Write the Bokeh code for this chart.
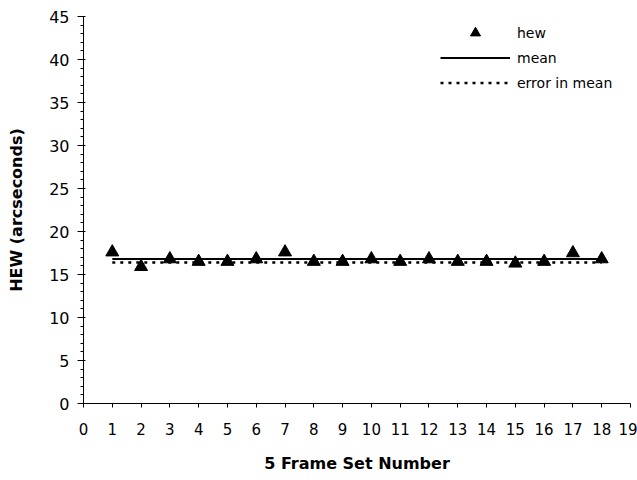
from bokeh.plotting import figure
from bokeh.models import Range1d, FixedTicker, Legend, LegendItem, ColumnDataSource
from bokeh.embed import file_html
from bokeh.resources import INLINE

frame_set = list(range(1, 19))
hew = [17.6, 15.9, 16.8, 16.5, 16.5, 16.8, 17.6, 16.5, 16.5,
       16.8, 16.5, 16.8, 16.5, 16.5, 16.3, 16.5, 17.5, 16.8]
mean_hew = 16.8
err_mean_low = 16.4
x_ticks = list(range(0, 20))
y_ticks = list(range(0, 50, 5))
y_minor = list(range(0, 46))

FONT = "DejaVu Sans"

src = ColumnDataSource(dict(x=frame_set, y=hew))
line_src = ColumnDataSource(dict(x=[frame_set[0], frame_set[-1]],
                                 m=[mean_hew, mean_hew],
                                 e=[err_mean_low, err_mean_low]))

p = figure(width=637, height=480, output_backend="svg", toolbar_location=None,
           x_range=Range1d(0, 19), y_range=Range1d(0, 45),
           min_border_left=83, min_border_right=7, min_border_top=16,
           min_border_bottom=77)
p.outline_line_color = None
p.xgrid.visible = False
p.ygrid.visible = False
p.background_fill_color = "white"
p.border_fill_color = "white"

r_mean = p.line("x", "m", source=line_src, line_color="black", line_width=2)
r_err = p.line("x", "e", source=line_src, line_color="black", line_width=2.5,
               line_dash="3 5")
r_hew = p.scatter("x", "y", source=src, marker="triangle", size=13,
                  fill_color="black", line_color="black")

xa = p.xaxis[0]
xa.ticker = FixedTicker(ticks=x_ticks)
xa.major_tick_out = 4
xa.major_tick_in = 0
xa.minor_tick_out = 0
xa.minor_tick_in = 0
xa.major_label_standoff = 15
xa.major_label_text_font = FONT
xa.major_label_text_font_size = "15px"
xa.major_label_text_color = "black"
xa.axis_label = "5 Frame Set Number"
xa.axis_label_text_font = FONT
xa.axis_label_text_font_style = "bold"
xa.axis_label_text_font_size = "16px"
xa.axis_label_text_color = "black"
xa.axis_label_standoff = 16
xa.axis_line_color = "black"

ya = p.yaxis[0]
ya.ticker = FixedTicker(ticks=y_ticks, minor_ticks=y_minor)
ya.major_tick_out = 6
ya.major_tick_in = 2
ya.minor_tick_out = 3
ya.minor_tick_in = 0
ya.major_label_standoff = 8
ya.major_label_text_font = FONT
ya.major_label_text_font_size = "16px"
ya.major_label_text_color = "black"
ya.axis_label = "HEW (arcseconds)"
ya.axis_label_text_font = FONT
ya.axis_label_text_font_style = "bold"
ya.axis_label_text_font_size = "16px"
ya.axis_label_text_color = "black"
ya.axis_label_standoff = 20
ya.axis_line_color = "black"

legend = Legend(items=[LegendItem(label="hew", renderers=[r_hew]),
                       LegendItem(label="mean", renderers=[r_mean]),
                       LegendItem(label="error in mean", renderers=[r_err])],
                location=(357, 308), glyph_width=70, glyph_height=25,
                spacing=0, padding=0, margin=0, label_standoff=7,
                border_line_color=None, background_fill_alpha=0,
                label_text_font=FONT, label_text_font_size="14px",
                label_text_color="black")
p.add_layout(legend)

open("out.html", "w").write(file_html(p, INLINE))
